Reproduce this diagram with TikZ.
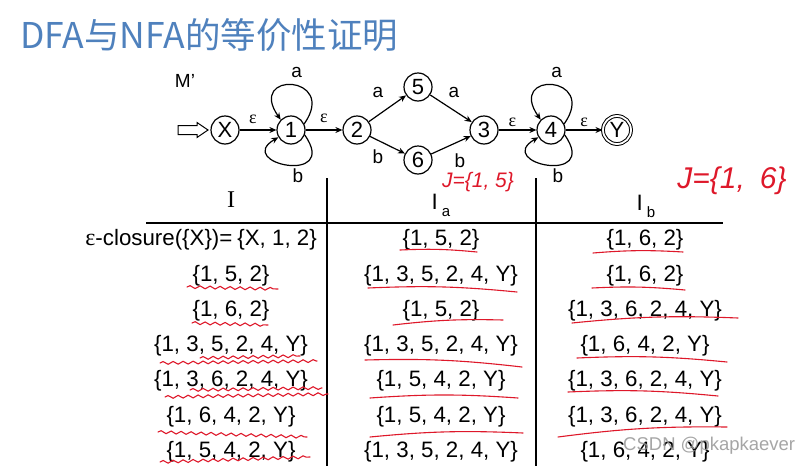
\documentclass[tikz,border=0pt]{standalone}
\usepackage{fontspec}
\setmainfont{Liberation Sans}
\newfontfamily\cjkfont{Noto Sans CJK SC}
\newfontfamily\seriffont{Liberation Serif}
\usetikzlibrary{arrows.meta, positioning, decorations.pathmorphing}
\definecolor{titleblue}{RGB}{79,129,189}
\definecolor{penred}{RGB}{222,24,42}
\definecolor{markgray}{RGB}{150,150,150}
\newcommand{\hdrsub}[1]{\hspace{4pt}\raisebox{-7pt}{\fontsize{15}{15}\selectfont #1}}
\newcommand{\epsym}{{\seriffont ε}}
\tikzset{
  nstate/.style={circle, draw, line width=1.2pt, minimum size=28pt, inner sep=0pt, font=\fontsize{22}{22}\selectfont},
  nfinal/.style={nstate, double, double distance=1.8pt, line width=1pt},
  trans/.style={-{Stealth[length=7pt, width=6pt]}, line width=1.2pt},
  sym/.style={font=\fontsize{19}{19}\selectfont, inner sep=1pt},
  eps/.style={font=\fontsize{18}{18}\selectfont, inner sep=0pt},
  cell/.style={font=\fontsize{22.3}{24}\selectfont, inner sep=0pt},
  tabline/.style={line width=1.6pt},
  pen/.style={draw=penred, line width=1.1pt, line cap=round},
  wavy/.style={pen, decorate, decoration={snake, amplitude=1.4pt, segment length=10pt}},
  hand/.style={text=penred, font=\fontsize{21}{21}\selectfont\itshape, inner sep=0pt}
}

\begin{document}
\begin{tikzpicture}[x=1pt, y=-1pt]
\useasboundingbox (0,0) rectangle (811,466);

% title
\node[anchor=base west, inner sep=0pt, text=titleblue, font=\cjkfont\fontsize{35.5}{36}\selectfont] (title) at (20,48) {DFA与NFA的等价性证明};

% automaton M'
\node[font=\fontsize{19}{19}\selectfont] (mname) at (185,81) {M’};
\draw[line width=1pt] (178,125.5) -- (197,125.5) -- (197,122.5) -- (208,130) -- (197,137.5) -- (197,134.5) -- (178,134.5) -- cycle;
\node[nstate] (nX) at (225,130) {X};
\node[nstate] (n1) at (291,130) {1};
\node[nstate] (n2) at (357,130) {2};
\node[nstate] (n5) at (418,87) {5};
\node[nstate] (n6) at (418,160) {6};
\node[nstate] (n3) at (484,130) {3};
\node[nstate] (n4) at (551,130) {4};
\node[nfinal] (nY) at (617,130) {Y};

\draw[trans] (nX) -- node[eps, xshift=-5pt, yshift=11pt] {\epsym} (n1);
\draw[trans] (n1) -- node[eps, yshift=12pt] {\epsym} (n2);
\draw[trans] (n2) -- node[sym, xshift=-9.5pt, yshift=16.5pt] {a} (n5);
\draw[trans] (n5) -- node[sym, xshift=3pt, yshift=16.5pt] {a} (n3);
\draw[trans] (n2) -- node[sym, xshift=-9.5pt, yshift=-12pt] {b} (n6);
\draw[trans] (n6) -- node[sym, xshift=9pt, yshift=-16pt] {b} (n3);
\draw[trans] (n3) -- node[eps, xshift=-5pt, yshift=8pt] {\epsym} (n4);
\draw[trans] (n4) -- node[eps, yshift=8pt] {\epsym} (nY);

% self loops on 1 and 4
\foreach \s in {n1, n4}{
  \draw[trans] (\s.25) .. controls +(55:60pt) and +(125:60pt) .. (\s.135) node[sym, pos=0.45, above=6pt] {a};
  \draw[trans] (\s.-20) .. controls +(-55:62pt) and +(-150:52pt) .. (\s.-150) node[sym, pos=0.4, below=2pt] {b};
}

% table
\draw[tabline] (146,223) -- (723,223);
\draw[tabline] (327,178) -- (327,466);
\draw[tabline] (536,178) -- (536,466);
\node[font=\seriffont\fontsize{24}{24}\selectfont, inner sep=0pt] (hI) at (231,200) {I};
\node[cell] (hIa) at (441,205.5) {I\hdrsub{a}};
\node[cell] (hIb) at (646,206) {I\hdrsub{b}};

\node[cell, anchor=east] (i1) at (317,240) {{\fontsize{24}{24}\selectfont\epsym}-closure(\{X\})=\hspace{5pt}\{X, 1, 2\}};
\node[cell] (a1) at (441,240) {\{1, 5, 2\}};
\node[cell] (b1) at (645,240) {\{1, 6, 2\}};
\foreach \r/\ti/\ta/\tb in {
  2/{1, 5, 2}/{1, 3, 5, 2, 4, Y}/{1, 6, 2},
  3/{1, 6, 2}/{1, 5, 2}/{1, 3, 6, 2, 4, Y},
  4/{1, 3, 5, 2, 4, Y}/{1, 3, 5, 2, 4, Y}/{1, 6, 4, 2, Y},
  5/{1, 3, 6, 2, 4, Y}/{1, 5, 4, 2, Y}/{1, 3, 6, 2, 4, Y},
  6/{1, 6, 4, 2, Y}/{1, 5, 4, 2, Y}/{1, 3, 6, 2, 4, Y},
  7/{1, 5, 4, 2, Y}/{1, 3, 5, 2, 4, Y}/{1, 6, 4, 2, Y}}{
  \node[cell] (i\r) at (231,{240+35.3*(\r-1)}) {\{\ti\}};
  \node[cell] (a\r) at (441,{240+35.3*(\r-1)}) {\{\ta\}};
  \node[cell] (b\r) at (645,{240+35.3*(\r-1)}) {\{\tb\}};
}

% red pen marks
\node[hand] (j5) at (478,182) {J=\{1, 5\}};
\node[hand, font=\fontsize{30}{30}\selectfont\itshape] (j6) at (732,181) {J=\{1,\enspace6\}};
\foreach \xa/\ya/\xb/\yb in {187/287/278/289, 192/323/268/325, 160/363/317/361, 200/358/300/356,
  165/397/328/394, 190/390/322/388, 158/432/307/437, 160/462/310/457}
  \draw[wavy] (\xa,\ya) -- (\xb,\yb);
\foreach \xa/\ya/\xb/\yb in {400/250/477/252, 368/288/517/292, 393/325/503/320, 365/360/522/367,
  370/398/518/398, 370/437/523/433, 593/253/683/252, 592/288/685/290, 572/323/738/318,
  577/358/727/362, 568/392/718/396, 558/437/727/427}
  \draw[pen] (\xa,\ya) to[bend left=4] (\xb,\yb);

% watermark
\node[text=markgray, opacity=0.85, font=\fontsize{18.5}{19}\selectfont, anchor=west, inner sep=0pt] (mark) at (623,446) {CSDN @pkapkaever};
\end{tikzpicture}
\end{document}
